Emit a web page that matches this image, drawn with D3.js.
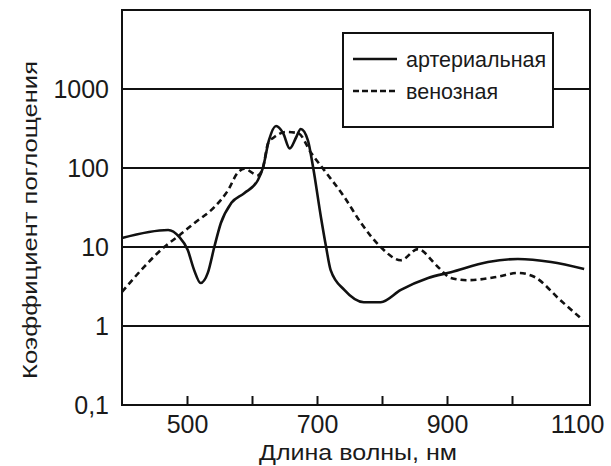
<!DOCTYPE html>
<html>
<head>
<meta charset="utf-8">
<script src="https://cdn.jsdelivr.net/npm/d3@7"></script>
<style>
  body { margin: 0; background: #fff; }
  text { font-family: "Liberation Sans", Arial, sans-serif; fill: #1a1a1a; }
</style>
</head>
<body>
<div id="chart"></div>
<script>
// wavelength (nm) and absorption values
const arterialNm = [400, 471, 488, 501, 511, 521, 532, 542, 552, 568, 588, 609, 617, 626, 637, 648, 658, 668, 675, 686, 694, 706, 714, 721, 742, 772, 798, 829, 871, 906, 963, 1009, 1060, 1111];
const arterialVal = [13, 16.4, 13.4, 9.2, 5.1, 3.5, 4.7, 10, 20, 36, 48, 70, 102, 223, 340, 275, 177, 245, 312, 224, 102, 24, 10, 5.1, 2.86, 2.0, 2.0, 2.86, 4.05, 4.8, 6.45, 7.05, 6.45, 5.25];

const venousNm = [400, 434, 465, 488, 511, 542, 563, 578, 588, 609, 617, 625, 634, 652, 671, 691, 711, 742, 768, 798, 829, 855, 886, 906, 932, 978, 1009, 1034, 1075, 1109];
const venousVal = [2.7, 5.6, 10, 14, 20, 32, 52, 87, 98, 81, 102, 210, 245, 286, 276, 155, 94, 43, 20, 10, 6.8, 9.4, 5.6, 4.05, 3.8, 4.2, 4.7, 4.2, 2.1, 1.19];

const yTicks = [0.1, 1, 10, 100, 1000];
const yTickLabels = ["0,1", "1", "10", "100", "1000"];
const xTicks = [500, 600, 700, 800, 900, 1000, 1100];
const xLabeled = [500, 700, 900, 1100];

const seriesNames = ["артериальная", "венозная"];

const width = 611, height = 466;
const margin = { left: 122, right: 21, top: 10, bottom: 61 };

const svg = d3.select("#chart").append("svg")
    .attr("width", width)
    .attr("height", height);

const x = d3.scaleLinear().domain([400, 1120]).range([margin.left, width - margin.right]);
const y = d3.scaleLog().domain([0.1, 10000]).range([height - margin.bottom, margin.top]);

// horizontal grid lines
svg.append("g")
    .selectAll("line")
    .data(yTicks.slice(1))
    .join("line")
    .attr("x1", x.range()[0])
    .attr("x2", x.range()[1])
    .attr("y1", d => y(d))
    .attr("y2", d => y(d))
    .attr("stroke", "#111")
    .attr("stroke-width", 2);

// x axis: ticks point inward
const xAxis = svg.append("g")
    .attr("transform", `translate(0,${y.range()[0]})`)
    .call(d3.axisBottom(x)
        .tickValues(xTicks)
        .tickSizeInner(-9)
        .tickSizeOuter(0)
        .tickPadding(10)
        .tickFormat(d => xLabeled.includes(d) ? d : ""));
xAxis.select(".domain").remove();
xAxis.selectAll(".tick line")
    .attr("stroke", "#111")
    .attr("stroke-width", 2)
    .attr("opacity", d => d === 1100 ? 0 : 1);
xAxis.selectAll(".tick text").attr("font-size", 25);

// y axis labels
const yAxis = svg.append("g")
    .attr("transform", `translate(${x.range()[0]},0)`)
    .call(d3.axisLeft(y)
        .tickValues(yTicks)
        .tickSize(0)
        .tickPadding(13)
        .tickFormat((d, i) => yTickLabels[i]));
yAxis.select(".domain").remove();
yAxis.selectAll(".tick text").attr("font-size", 25);

// lines
const line = d3.line()
    .x(d => x(d[0]))
    .y(d => y(d[1]))
    .curve(d3.curveMonotoneX);

svg.append("path")
    .datum(d3.zip(arterialNm, arterialVal))
    .attr("fill", "none")
    .attr("stroke", "#111")
    .attr("stroke-width", 2.6)
    .attr("d", line);

svg.append("path")
    .datum(d3.zip(venousNm, venousVal))
    .attr("fill", "none")
    .attr("stroke", "#111")
    .attr("stroke-width", 2.6)
    .attr("stroke-dasharray", "6,4")
    .attr("d", line);

// frame
svg.append("rect")
    .attr("x", x.range()[0])
    .attr("y", y.range()[1])
    .attr("width", x.range()[1] - x.range()[0])
    .attr("height", y.range()[0] - y.range()[1])
    .attr("fill", "none")
    .attr("stroke", "#111")
    .attr("stroke-width", 2);

// legend
const lg = svg.append("g").attr("transform", "translate(343,33)");
lg.append("rect")
    .attr("width", 210)
    .attr("height", 94)
    .attr("fill", "#fff")
    .attr("stroke", "#111")
    .attr("stroke-width", 2);
seriesNames.forEach((name, i) => {
    const ly = 26 + i * 32;
    lg.append("line")
        .attr("x1", 10).attr("x2", 54)
        .attr("y1", ly).attr("y2", ly)
        .attr("stroke", "#111")
        .attr("stroke-width", 2.6)
        .attr("stroke-dasharray", i === 1 ? "6,3" : null);
    lg.append("text")
        .attr("x", 63)
        .attr("y", ly)
        .attr("dy", "0.35em")
        .attr("font-size", 21.5)
        .text(name);
});

// axis titles (reference glyphs are a little wider than Liberation Sans)
svg.append("text")
    .attr("x", (x.range()[0] + x.range()[1]) / 2 + 2)
    .attr("y", 460)
    .attr("text-anchor", "middle")
    .attr("font-size", 22)
    .attr("textLength", 198)
    .attr("lengthAdjust", "spacingAndGlyphs")
    .text("Длина волны, нм");

svg.append("text")
    .attr("transform", "translate(37,220) rotate(-90)")
    .attr("text-anchor", "middle")
    .attr("font-size", 21)
    .attr("textLength", 318)
    .attr("lengthAdjust", "spacingAndGlyphs")
    .text("Коэффициент поглощения");
</script>
</body>
</html>
